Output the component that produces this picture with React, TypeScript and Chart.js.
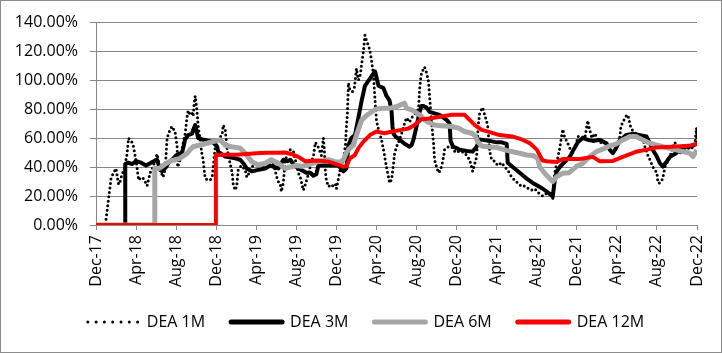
import React, { useEffect, useRef } from "react";
import { Chart, registerables } from "chart.js";
Chart.register(...registerables);

// x = months since Dec-17, y = percent
const tickLabels = ["Dec-17","Apr-18","Aug-18","Dec-18","Apr-19","Aug-19","Dec-19","Apr-20","Aug-20","Dec-20","Apr-21","Aug-21","Dec-21","Apr-22","Aug-22","Dec-22"];
const seriesNames = ["DEA 1M", "DEA 3M", "DEA 6M", "DEA 12M"];

const dea1M: [number, number][] = [
  [1.0,4],[1.1,9],[1.2,15],[1.3,21],[1.4,26],[1.5,32],[1.75,36],[2.0,39],[2.25,28],[2.4,30],[2.6,35],[2.8,38],
  [3.1,49],[3.25,60],[3.45,58],[3.6,57],[3.75,54],[3.9,48],[4.05,42],[4.25,31],[4.5,33],[4.75,32],[4.9,30],[5.1,27],
  [5.4,36],[5.7,40],[5.9,45],[6.1,49],[6.4,38],[6.7,33],[6.9,38],[7.1,60],[7.4,66],[7.6,68],[7.9,64],[8.1,54],
  [8.15,40],[8.4,45],[8.65,55],[8.9,63],[9.1,75],[9.2,79],[9.4,76],[9.6,77],[9.7,75],[9.8,84],[9.9,89],[10.0,84],
  [10.1,77],[10.2,68],[10.4,59],[10.55,50],[10.7,45],[10.8,38],[10.9,32],[11.2,31],[11.4,31],[11.6,33],[11.9,54],
  [12.2,58],[12.6,63],[12.7,69],[12.9,66],[13.1,52],[13.4,42],[13.6,36],[13.7,28],[13.9,24],[14.05,27],[14.2,38],
  [14.5,41],[14.9,38],[15.05,33],[15.3,36],[15.55,40],[16.0,43],[16.4,38],[16.9,42],[17.5,44],[17.8,40],[18.05,33],
  [18.2,30],[18.4,28],[18.5,23],[18.7,29],[18.9,45],[19.1,48],[19.4,52],[19.7,51],[20.0,42],[20.2,36],[20.4,33],
  [20.5,30],[20.7,24],[20.9,28],[21.2,35],[21.5,44],[21.7,47],[21.9,57],[22.1,55],[22.3,52],[22.5,48],[22.7,60],
  [22.8,52],[22.9,37],[23.0,31],[23.2,26.5],[23.5,28],[23.7,26.5],[23.9,28],[24.0,25],[24.2,32],[24.4,39],[24.7,45],
  [24.9,55],[25.0,68],[25.1,77],[25.2,98],[25.35,93],[25.6,92],[25.8,95],[26.0,108],[26.2,100],[26.4,104],[26.5,110],
  [26.7,120],[26.85,131],[27.0,127],[27.2,124],[27.35,120],[27.5,114],[27.7,103],[27.85,87],[28.0,72],[28.2,66],
  [28.5,59],[28.7,52],[28.9,44],[29.0,40],[29.2,33],[29.3,29],[29.5,31],[29.7,42],[29.8,49],[30.0,54],[30.2,57],
  [30.5,63],[30.8,70],[31.0,74],[31.3,71],[31.6,75],[31.9,77],[32.2,80],[32.3,93],[32.4,100],[32.5,105],[32.8,109],
  [33.0,105],[33.2,99],[33.3,89],[33.5,71],[33.7,56],[33.8,45],[34.0,40],[34.2,36],[34.4,38],[34.55,42],[34.7,47],
  [34.8,52],[35.2,54],[35.5,54],[35.9,50],[36.3,51],[36.8,50],[37.3,45],[37.5,40],[37.6,37],[37.8,42],[38.0,47],
  [38.15,68],[38.3,77],[38.5,80],[38.6,81],[38.8,76],[39.1,69],[39.2,60],[39.3,51],[39.5,45],[39.8,44],[40.1,41],
  [40.5,43],[40.8,40],[41.1,38],[41.5,33],[41.8,31],[42.1,29],[42.5,26.5],[42.8,27],[43.2,25],[43.5,24],[43.8,25],
  [44.2,22],[44.6,20],[45.0,22],[45.3,21],[45.6,18.5],[45.8,36],[46.0,43],[46.3,53],[46.5,62],[46.6,66],[46.8,60],
  [47.0,58],[47.3,53],[47.6,50],[47.95,56],[48.1,61],[48.5,61],[48.8,60],[49.1,72],[49.2,68],[49.5,60],[49.8,63],
  [50.2,58],[50.6,56],[51.0,57],[51.3,52],[51.6,50],[52.0,53],[52.3,61],[52.4,68],[52.6,71],[52.9,75],[53.1,76],
  [53.3,70],[53.4,67],[53.6,65],[53.9,63],[54.3,62],[54.6,60],[54.8,54],[55.1,48],[55.3,45],[55.6,40],[56.0,36],
  [56.1,29],[56.3,29],[56.5,31],[56.6,33],[56.8,40],[57.0,43],[57.3,47],[57.6,54],[57.8,57],[58.0,52],[58.3,49],
  [58.6,54],[59.0,52],[59.3,54],[59.6,53],[59.8,57],[59.95,67],[60.0,55]
];

const dea3M: [number, number][] = [
  [0,0],[2.9,0],[2.92,42],[3.2,43],[3.6,42],[4.0,44],[4.5,43],[5.0,41],[5.5,43],[6.1,45],[6.4,38],[6.6,37],[7.0,40],
  [7.24,43],[7.6,45],[8.0,48],[8.6,50],[8.9,59],[9.2,62],[9.6,63],[9.7,65.6],[9.9,69],[10.1,63],[10.2,60],[10.6,59],
  [10.9,58.7],[11.6,57.5],[12.1,54],[12.2,50.6],[12.9,47.2],[13.9,46],[14.4,45],[14.7,42.6],[15.05,39],[15.55,37],
  [16.2,38],[16.9,39],[17.4,41],[17.8,40],[18.2,39],[18.7,45],[19.1,44],[19.4,45],[19.7,42],[20.0,40],[20.5,38],
  [21.0,36],[21.4,36],[21.7,34],[22.0,35],[22.2,41],[22.8,41],[23.5,41],[24.2,41],[24.7,37],[25.0,39],[25.2,55],
  [25.5,60],[25.85,62],[26.2,74],[26.5,85],[26.85,96],[27.35,101],[27.85,106],[28.0,102],[28.2,96],[28.7,94.4],
  [29.0,89],[29.3,86],[29.5,79],[29.6,68],[29.7,63],[29.9,61],[30.3,59],[30.8,56],[31.3,54],[31.5,55],[31.7,59],
  [32.0,68],[32.3,78],[32.5,82],[32.7,82],[33.0,81],[33.3,78],[33.8,77],[34.3,76],[35.0,72.5],[35.3,70],[35.4,58],
  [35.65,54],[36.3,52],[37.0,51],[37.6,50.6],[38.0,54],[38.3,59],[38.6,58.7],[39.3,58],[40.0,57],[40.5,57],[41.0,56],
  [41.1,43],[41.6,40],[42.3,36],[43.0,32],[43.6,29],[44.1,27],[44.6,25],[45.2,22],[45.6,19.6],[45.8,31],[46.0,37],
  [46.3,40],[47.0,45],[47.3,47],[47.6,51],[48.1,57],[48.6,60],[49.1,58.7],[49.6,58],[50.3,58.7],[50.95,56.4],
  [51.3,51.8],[51.6,49.5],[52.0,54],[52.3,58.7],[52.6,60],[52.9,62],[53.6,63],[54.3,62],[54.95,61],[55.3,56.4],
  [55.6,51.8],[56.0,47],[56.3,42.6],[56.6,40.3],[57.0,44],[57.3,47],[57.9,49.5],[58.6,54],[59.3,54],[60,56]
];

const dea6M: [number, number][] = [
  [0,0],[5.85,0],[5.87,39],[6.3,39],[6.9,42],[7.4,44],[7.9,45],[8.4,46],[9.1,49.5],[9.4,52],[9.7,54],[10.4,55.2],
  [11.1,56.4],[11.7,57.5],[12.4,58.7],[12.9,55],[13.5,54],[14.4,53],[14.9,49.5],[15.55,43.7],[16.2,41.4],[16.9,42.6],
  [17.5,45],[18.2,42.6],[18.9,39],[19.4,40],[20.0,41],[20.5,40.5],[21.0,41],[21.7,42.6],[22.2,43.7],[23.2,45],
  [23.8,43.7],[24.4,43.5],[24.7,45],[25.0,50],[25.35,53],[25.7,55],[26.0,62],[26.5,72],[27.0,75.5],[27.6,78.5],
  [28.0,80],[28.7,80.6],[29.3,80.6],[29.7,81],[30.3,82.5],[30.8,84],[31.0,80.6],[31.5,79.4],[32.0,77.5],[32.5,74.8],
  [32.8,72.5],[33.3,70.5],[33.8,69],[34.5,68.5],[35.5,67.9],[36.2,66.8],[36.8,64.5],[37.5,63.3],[37.8,62],[38.15,57],
  [38.5,54.5],[39.1,54],[40.0,53.5],[40.3,52.9],[41.0,51.5],[41.6,50.5],[42.3,49.5],[43.0,48.3],[43.6,48],[44.1,46],
  [44.3,40],[44.95,34.5],[45.6,30],[46.0,33.4],[46.6,35.7],[47.2,36],[47.95,40.3],[48.6,42.6],[49.3,47.2],
  [49.95,50.6],[50.6,52.3],[51.3,54.6],[51.9,55.8],[52.6,58.7],[53.3,61],[53.9,61],[54.6,58.7],[55.3,56.4],
  [55.9,55.2],[56.6,54],[57.3,52.9],[57.9,51.8],[58.6,50.6],[59.3,49.5],[59.6,47.2],[60,51.8]
];

const dea12M: [number, number][] = [
  [0,0],[11.95,0],[11.97,48.3],[13,48.5],[14,48.5],[15,49],[16,49.5],[17,49.8],[18,49.8],[18.9,50],[19.5,49],
  [20.2,47],[20.9,44],[22.2,44.5],[23.2,43.7],[24.2,41.4],[24.7,40.3],[25.0,40.5],[25.35,46],[25.85,48.3],[26.2,53],
  [26.7,57.5],[27.35,62],[28,64.5],[28.8,63.3],[29.6,64.5],[30.5,65.6],[31.2,66.5],[31.8,69],[32.5,73],[33.3,73.5],
  [34.5,74.8],[35.5,76],[36.8,76],[37.3,72.5],[37.8,69],[38.5,65.6],[39.3,64],[40.3,62],[41.6,61],[42.5,59],
  [43.3,56.5],[44,52],[44.6,44.5],[45,44],[46,43.5],[46.6,45.5],[47.5,45.5],[48.3,45.5],[49.6,47],[50.3,44],
  [51.6,44.2],[52.6,47],[53.9,50.5],[55,52],[55.9,53.4],[57.5,54],[59.2,54.6],[60,56]
];

const toPoints = (arr: [number, number][]) => arr.map(([x, y]) => ({ x, y }));

const legendShift = {
  id: "legendShift",
  afterLayout(chart: any) {
    const lg = chart.legend;
    if (!lg) return;
    const d = 366 - (lg.left + lg.right) / 2;
    lg.left += d;
    lg.right += d;
  },
};

export default function App() {
  const ref = useRef<HTMLCanvasElement | null>(null);
  useEffect(() => {
    if (!ref.current) return;
    const font = { family: "'Open Sans', 'Noto Sans', sans-serif", size: 16 };
    const legendWidths = [3, 5, 5, 5];
    const legendDash = [[0, 8.3], [], [], []];
    const padBottom = 13;
    const chart = new Chart(ref.current, {
      type: "line",
      data: {
        datasets: [
          { label: seriesNames[0], data: toPoints(dea1M), borderColor: "#000000", backgroundColor: "#000000",
            borderWidth: 3, borderDash: [0, 4.5], borderCapStyle: "round", order: 4 },
          { label: seriesNames[1], data: toPoints(dea3M), borderColor: "#000000", backgroundColor: "#000000",
            borderWidth: 4, borderJoinStyle: "round", order: 3 },
          { label: seriesNames[2], data: toPoints(dea6M), borderColor: "#A6A6A6", backgroundColor: "#A6A6A6",
            borderWidth: 5, borderJoinStyle: "round", order: 2 },
          { label: seriesNames[3], data: toPoints(dea12M), borderColor: "#FF0000", backgroundColor: "#FF0000",
            borderWidth: 4, borderJoinStyle: "round", order: 1 },
        ] as any,
      },
      plugins: [legendShift],
      options: {
        responsive: false,
        maintainAspectRatio: false,
        animation: false,
        layout: { padding: { left: 0, right: 25, top: 22, bottom: padBottom } },
        elements: { point: { radius: 0 }, line: { tension: 0 } },
        plugins: {
          legend: {
            position: "bottom",
            labels: {
              usePointStyle: true,
              pointStyle: "line",
              pointStyleWidth: 51,
              padding: 26,
              color: "#000",
              font,
              generateLabels: (c: any) =>
                c.data.datasets.map((ds: any, i: number) => ({
                  text: ds.label,
                  datasetIndex: i,
                  fillStyle: ds.borderColor,
                  strokeStyle: ds.borderColor,
                  lineWidth: legendWidths[i],
                  lineDash: legendDash[i],
                  lineCap: "round",
                  pointStyle: "line",
                  hidden: false,
                  fontColor: "#000",
                })),
            },
          },
          tooltip: { enabled: false },
        },
        scales: {
          x: {
            type: "linear",
            min: 0,
            max: 60,
            afterFit: (s: any) => {
              const lgH = s.chart.legend ? s.chart.legend.height : 0;
              s.height = s.chart.height - padBottom - lgH - 225;
            },
            ticks: {
              stepSize: 4,
              autoSkip: false,
              minRotation: 90,
              maxRotation: 90,
              padding: 5,
              color: "#000",
              font,
              callback: (v: any) => tickLabels[Math.round(Number(v) / 4)] ?? "",
            },
            grid: { drawOnChartArea: false, drawTicks: true, tickLength: 5, color: "#888" },
            border: { display: true, color: "#888" },
          },
          y: {
            min: 0,
            max: 140,
            afterFit: (s: any) => { s.width = 96; },
            ticks: {
              stepSize: 20,
              padding: 12,
              color: "#000",
              font,
              callback: (v: any) => Number(v).toFixed(2) + "%",
            },
            grid: { color: "#888", tickLength: 6 },
            border: { display: true, color: "#888" },
          },
        },
      } as any,
    });
    return () => chart.destroy();
  }, []);

  return (
    <div style={{ position: "fixed", left: 0, top: 0, width: 722, height: 353, overflow: "hidden", background: "#fff" }}>
      <canvas ref={ref} width={722} height={353} style={{ position: "absolute", left: 0, top: 0, width: 722, height: 353 }} />
      <div style={{ position: "absolute", left: 0, top: 0, width: 722, height: 353, boxSizing: "border-box", border: "1px solid #8c8c8c", pointerEvents: "none" }} />
    </div>
  );
}
